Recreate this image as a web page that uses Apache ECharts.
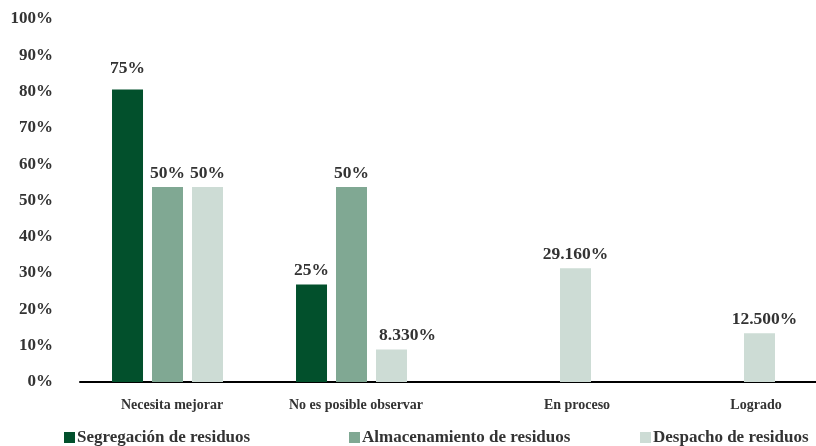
<!DOCTYPE html>
<html>
<head>
<meta charset="utf-8">
<script src="https://cdn.jsdelivr.net/npm/echarts@6/dist/echarts.min.js"></script>
<style>html,body{margin:0;padding:0;background:#fff}#c{width:816px;height:446px}</style>
</head>
<body>
<div id="c"></div>
<script>
var categories = ['Necesita mejorar', 'No es posible observar', 'En proceso', 'Logrado'];
var seriesNames = ['Segregación de residuos', 'Almacenamiento de residuos', 'Despacho de residuos'];
var segregacion = [75, 25, null, null];
var almacenamiento = [50, 50, null, null];
var despacho = [50, 8.33, 29.16, 12.5];
var segregacionLabels = ['75%', '25%', '', ''];
var almacenamientoLabels = ['50%', '50%', '', ''];
var despachoLabels = ['50%', '8.330%', '29.160%', '12.500%'];
var tickLabels = ['0%', '10%', '20%', '30%', '40%', '50%', '60%', '70%', '80%', '90%', '100%'];
var colors = ['#02502c', '#80a893', '#cddcd5'];

var FONT = '"Liberation Serif", "DejaVu Serif", serif';
var chart = echarts.init(document.getElementById('c'));

// per-label placement tweaks (series index -> data index -> label style)
var labelTweaks = {
  0: { 0: { distance: 12 } },
  2: { 1: { offset: [16, 0] }, 3: { offset: [5, 0] } }
};

function mk(idx, name, data, labels, color) {
  var items = data.map(function (v, i) {
    var t = labelTweaks[idx] && labelTweaks[idx][i];
    return t ? { value: v, label: t } : v;
  });
  return {
    name: name, type: 'bar', data: items, yAxisIndex: 0,
    barWidth: 31, barGap: '29%',
    itemStyle: { color: color },
    label: {
      show: true, position: 'top', distance: 5,
      fontFamily: FONT, fontWeight: 'bold', fontSize: 17.5, color: '#333',
      formatter: function (p) { return labels[p.dataIndex]; }
    }
  };
}

function lg(name, left) {
  return {
    left: left, top: 424, itemWidth: 11, itemHeight: 11,
    icon: 'rect',
    textStyle: { fontFamily: FONT, fontWeight: 'bold', fontSize: 17, color: '#333', padding: [0,0,0,-3] },
    data: [name]
  };
}

chart.setOption({
  animation: false,
  color: colors,
  grid: { left: 80, right: 0, top: 19, bottom: 64 },
  legend: [lg(seriesNames[0], 59), lg(seriesNames[1], 344), lg(seriesNames[2], 635)],
  xAxis: {
    type: 'category',
    data: [
      categories[0],
      categories[1],
      { value: categories[2], textStyle: { padding: [0, 0, 0, 74] } },
      { value: categories[3], textStyle: { padding: [0, 0, 0, 64] } }
    ],
    axisLine: { lineStyle: { color: '#000', width: 2 } },
    axisTick: { show: false },
    axisLabel: { margin: 16, fontFamily: FONT, fontWeight: 'bold', fontSize: 14, color: '#333' }
  },
  yAxis: [
    { type: 'value', min: 0, max: 93.1, show: false, splitLine: { show: false } },
    {
      type: 'value', min: 0, max: 100, interval: 10, position: 'left',
      axisLine: { show: false }, axisTick: { show: false }, splitLine: { show: false },
      axisLabel: {
        margin: 27, fontFamily: FONT, fontWeight: 'bold', fontSize: 17, color: '#333',
        formatter: function (v) { return tickLabels[Math.round(v / 10)]; }
      }
    }
  ],
  series: [
    mk(0, seriesNames[0], segregacion, segregacionLabels, colors[0]),
    mk(1, seriesNames[1], almacenamiento, almacenamientoLabels, colors[1]),
    mk(2, seriesNames[2], despacho, despachoLabels, colors[2]),
    { type: 'bar', yAxisIndex: 1, data: [], silent: true }
  ]
});
</script>
</body>
</html>
